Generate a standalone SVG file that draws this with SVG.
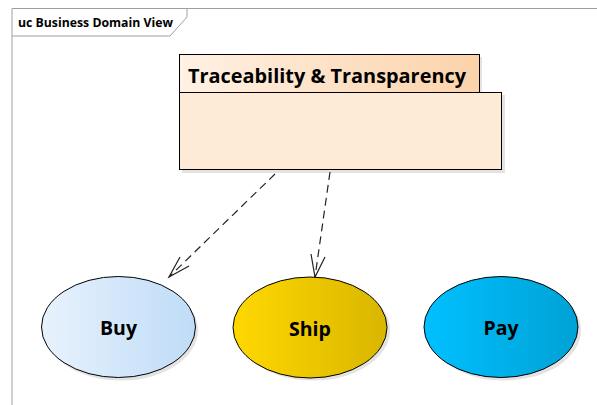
<svg xmlns="http://www.w3.org/2000/svg" width="597" height="405" viewBox="0 0 597 405">
  <style>
    .lbl { font-family: "Open Sans", "Noto Sans", "DejaVu Sans", sans-serif; font-weight: bold; fill: #000; }
    .node { stroke: #000; stroke-width: 1; }
    .shadow { fill: #d0d0d0; opacity: 0.6; }
    .conn { fill: none; stroke: #222; stroke-width: 1.2; stroke-dasharray: 8 5; }
    .head { fill: none; stroke: #222; stroke-width: 1.2; }
  </style>
  <defs>
    <linearGradient id="gTab" x1="0" y1="0" x2="1" y2="0">
      <stop offset="0" stop-color="#fff1e4"/>
      <stop offset="1" stop-color="#fbd3aa"/>
    </linearGradient>
    <linearGradient id="gBuy" x1="0" y1="0" x2="1" y2="0">
      <stop offset="0" stop-color="#e8f2fd"/>
      <stop offset="1" stop-color="#bfdcf7"/>
    </linearGradient>
    <linearGradient id="gShip" x1="0" y1="0" x2="1" y2="0">
      <stop offset="0" stop-color="#ffd800"/>
      <stop offset="1" stop-color="#d9b600"/>
    </linearGradient>
    <linearGradient id="gPay" x1="0" y1="0" x2="1" y2="0">
      <stop offset="0" stop-color="#00c0ff"/>
      <stop offset="1" stop-color="#00a2d6"/>
    </linearGradient>
  </defs>

  <rect width="597" height="405" fill="#ffffff"/>

  <g id="frame">
    <path d="M12,405 V8.5 H597" fill="none" stroke="#a0a0a0" stroke-width="1"/>
    <path d="M12,36 H170 L187,17 V8.5" fill="none" stroke="#a0a0a0" stroke-width="1"/>
    <text class="lbl" x="18" y="27" font-size="13" textLength="155" lengthAdjust="spacingAndGlyphs">uc Business Domain View</text>
  </g>

  <g id="package">
    <rect class="shadow" x="182" y="57" width="300" height="39"/>
    <rect class="shadow" x="182" y="95" width="323" height="78"/>
    <rect class="node" x="179.5" y="54.5" width="300" height="38" fill="url(#gTab)"/>
    <rect class="node" x="179.5" y="92.5" width="322" height="77" fill="#fdebd8"/>
    <text class="lbl" x="188" y="83" font-size="20" textLength="278" lengthAdjust="spacingAndGlyphs">Traceability &amp; Transparency</text>
  </g>

  <g id="connectors">
    <line class="conn" x1="275" y1="174" x2="169" y2="277"/>
    <polyline class="head" points="180,257 169,277 189,266"/>
    <line class="conn" x1="330" y1="172" x2="315" y2="277"/>
    <polyline class="head" points="311,254 315,277 325,257"/>
  </g>

  <g id="buy">
    <ellipse class="shadow" cx="121" cy="330" rx="77" ry="50.5"/>
    <ellipse class="node" cx="118.5" cy="327" rx="77" ry="50.5" fill="url(#gBuy)"/>
    <text class="lbl" x="118.5" y="335" font-size="19.5" text-anchor="middle">Buy</text>
  </g>

  <g id="ship">
    <ellipse class="shadow" cx="313" cy="330" rx="77" ry="50.5"/>
    <ellipse class="node" cx="310" cy="327.5" rx="77" ry="50.5" fill="url(#gShip)"/>
    <text class="lbl" x="310" y="335.5" font-size="19.5" text-anchor="middle">Ship</text>
  </g>

  <g id="pay">
    <ellipse class="shadow" cx="504" cy="330" rx="77" ry="50.5"/>
    <ellipse class="node" cx="501" cy="327" rx="77" ry="50.5" fill="url(#gPay)"/>
    <text class="lbl" x="501" y="335" font-size="19.5" text-anchor="middle">Pay</text>
  </g>
</svg>
